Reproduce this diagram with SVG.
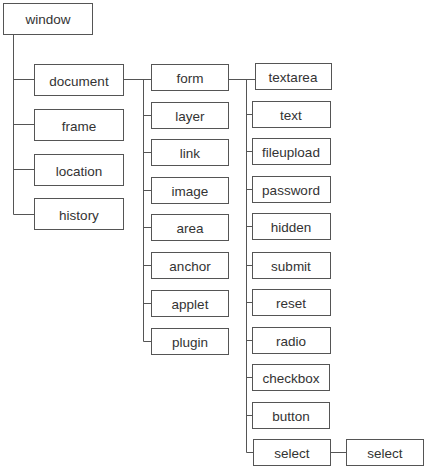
<svg xmlns="http://www.w3.org/2000/svg" width="428" height="470" viewBox="0 0 428 470">
<style>
rect{fill:#fff;stroke:#555;stroke-width:1}
.c{fill:none;stroke:#555;stroke-width:1}
text{font-family:"Liberation Sans",Arial,sans-serif;font-size:13.5px;fill:#333;text-anchor:middle}
</style>
<rect x="0" y="0" width="428" height="470" style="stroke:none"/>
<g id="connectors" class="c">
<path d="M13.5 35V214.5M13.5 79.5H34.5M13.5 124.5H34.5M13.5 169.5H34.5M13.5 214.5H34.5"/>
<path d="M123.5 79.5H151.5M143.5 79.5V341.5M143.5 115.5H151.5M143.5 152.5H151.5M143.5 190.5H151.5M143.5 227.5H151.5M143.5 265.5H151.5M143.5 303.5H151.5M143.5 341.5H151.5"/>
<path d="M228.5 79.5H255.5M246.5 79.5V452.5H253.5M246.5 114.5H252.5M246.5 151.5H252.5M246.5 189.5H252.5M246.5 226.5H252.5M246.5 265.5H252.5M246.5 302.5H252.5M246.5 340.5H252.5M246.5 377.5H252.5M246.5 415.5H252.5"/>
<path d="M330.5 452.5H346.5"/>
</g>
<g id="window"><rect x="3.5" y="3.5" width="89" height="31"/><text x="48" y="24">window</text></g>
<g id="document"><rect x="34.5" y="64.5" width="89" height="31"/><text x="79" y="86">document</text></g>
<g id="frame"><rect x="34.5" y="109.5" width="89" height="31"/><text x="79" y="131">frame</text></g>
<g id="location"><rect x="34.5" y="154.5" width="89" height="31"/><text x="79" y="176">location</text></g>
<g id="history"><rect x="34.5" y="198.5" width="89" height="31"/><text x="79" y="220">history</text></g>
<g id="form"><rect x="151.5" y="64.5" width="77" height="26"/><text x="190" y="83">form</text></g>
<g id="layer"><rect x="151.5" y="102.5" width="77" height="26"/><text x="190" y="121">layer</text></g>
<g id="link"><rect x="151.5" y="139.5" width="77" height="26"/><text x="190" y="158">link</text></g>
<g id="image"><rect x="151.5" y="177.5" width="77" height="26"/><text x="190" y="196">image</text></g>
<g id="area"><rect x="151.5" y="214.5" width="77" height="26"/><text x="190" y="233">area</text></g>
<g id="anchor"><rect x="151.5" y="252.5" width="77" height="26"/><text x="190" y="271">anchor</text></g>
<g id="applet"><rect x="151.5" y="290.5" width="77" height="26"/><text x="190" y="309">applet</text></g>
<g id="plugin"><rect x="151.5" y="328.5" width="77" height="26"/><text x="190" y="347">plugin</text></g>
<g id="textarea"><rect x="255.5" y="63.5" width="76" height="26"/><text x="293" y="82">textarea</text></g>
<g id="text"><rect x="252.5" y="101.5" width="78" height="26"/><text x="291" y="120">text</text></g>
<g id="fileupload"><rect x="252.5" y="138.5" width="78" height="26"/><text x="291" y="157">fileupload</text></g>
<g id="password"><rect x="252.5" y="176.5" width="78" height="26"/><text x="291" y="195">password</text></g>
<g id="hidden"><rect x="252.5" y="213.5" width="78" height="26"/><text x="291" y="232">hidden</text></g>
<g id="submit"><rect x="252.5" y="252.5" width="78" height="26"/><text x="291" y="271">submit</text></g>
<g id="reset"><rect x="252.5" y="289.5" width="78" height="26"/><text x="291" y="308">reset</text></g>
<g id="radio"><rect x="252.5" y="327.5" width="78" height="26"/><text x="291" y="346">radio</text></g>
<g id="checkbox"><rect x="252.5" y="364.5" width="77" height="26"/><text x="291" y="383">checkbox</text></g>
<g id="button"><rect x="252.5" y="402.5" width="77" height="26"/><text x="291" y="421">button</text></g>
<g id="select"><rect x="253.5" y="439.5" width="77" height="26"/><text x="292" y="458">select</text></g>
<g id="select2"><rect x="346.5" y="439.5" width="77" height="26"/><text x="385" y="458">select</text></g>
</svg>
